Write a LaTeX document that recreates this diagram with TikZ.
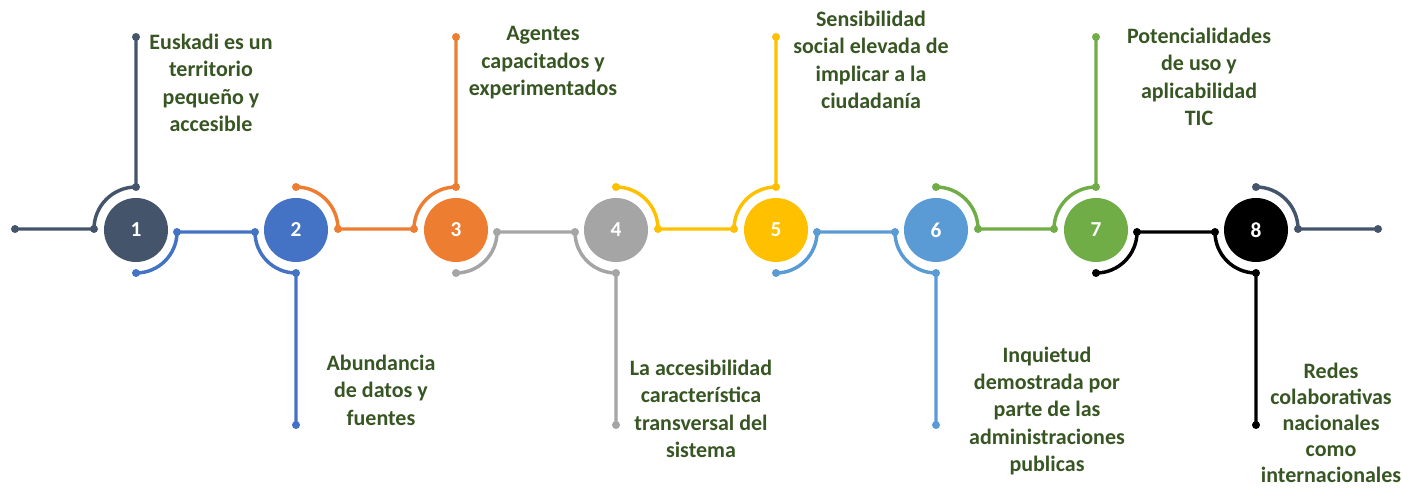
\documentclass[tikz,border=0pt]{standalone}
\usepackage{fontspec}
\setmainfont{Carlito}
\usetikzlibrary{positioning,calc}
\definecolor{slate}{HTML}{44546A}
\definecolor{blueA}{HTML}{4472C4}
\definecolor{orangeA}{HTML}{ED7D31}
\definecolor{greyA}{HTML}{A5A5A5}
\definecolor{yellowA}{HTML}{FFC000}
\definecolor{lblueA}{HTML}{5B9BD5}
\definecolor{greenA}{HTML}{70AD47}
\definecolor{textgreen}{HTML}{375623}
\tikzstyle{stage} = [circle, inner sep=0pt, minimum size=48pt, text=white, font=\bfseries\fontsize{16}{18}\selectfont]
\tikzstyle{caption} = [align=center, inner sep=0pt, text=textgreen, font=\bfseries\fontsize{16.5}{20.6}\selectfont]

\begin{document}
\begin{tikzpicture}[x=0.75pt, y=0.75pt, node distance=120pt, line width=2.6pt]
    \useasboundingbox (0,0) rectangle (1403,492);
    \node [stage, fill=slate] (c1) at (136,262) {1};
    \node [stage, fill=blueA, right of=c1] (c2) {2};
    \node [stage, fill=orangeA, right of=c2] (c3) {3};
    \node [stage, fill=greyA, right of=c3] (c4) {4};
    \node [stage, fill=yellowA, right of=c4] (c5) {5};
    \node [stage, fill=lblueA, right of=c5] (c6) {6};
    \node [stage, fill=greenA, right of=c6] (c7) {7};
    \node [stage, fill=black, right of=c7] (c8) {8};

    % ring points round every stage
    \foreach \i in {1,...,8} {
        \coordinate (t\i) at ($(c\i)+(0,43)$);
        \coordinate (lt\i) at ($(c\i)+(-42,1)$);
        \coordinate (rt\i) at ($(c\i)+(42,1)$);
        \coordinate (b\i) at ($(c\i)+(0,-43)$);
        \coordinate (lb\i) at ($(c\i)+(-41,-2)$);
        \coordinate (rb\i) at ($(c\i)+(41,-2)$);
        \coordinate (up\i) at ($(c\i)+(0,193)$);
        \coordinate (dn\i) at ($(c\i)+(0,-195)$);
    }
    \coordinate (start) at ($(lt1)+(-79,0)$);
    \coordinate (finish) at ($(rt8)+(80,0)$);

    \draw [slate] (start) -- (lt1) arc[start angle=180, end angle=90, radius=42] -- (up1);
    \draw [blueA] (b1) arc[start angle=-90, end angle=0, radius=41] -- (lb2) arc[start angle=180, end angle=270, radius=41] -- (dn2);
    \draw [orangeA] (t2) arc[start angle=90, end angle=0, radius=42] -- (lt3) arc[start angle=180, end angle=90, radius=42] -- (up3);
    \draw [greyA] (b3) arc[start angle=-90, end angle=0, radius=41] -- (lb4) arc[start angle=180, end angle=270, radius=41] -- (dn4);
    \draw [yellowA] (t4) arc[start angle=90, end angle=0, radius=42] -- (lt5) arc[start angle=180, end angle=90, radius=42] -- (up5);
    \draw [lblueA] (b5) arc[start angle=-90, end angle=0, radius=41] -- (lb6) arc[start angle=180, end angle=270, radius=41] -- (dn6);
    \draw [greenA] (t6) arc[start angle=90, end angle=0, radius=42] -- (lt7) arc[start angle=180, end angle=90, radius=42] -- (up7);
    \draw [black] (b7) arc[start angle=-90, end angle=0, radius=41] -- (lb8) arc[start angle=180, end angle=270, radius=41] -- (dn8);
    \draw [slate] (t8) arc[start angle=90, end angle=0, radius=42] -- (finish);

    % dots at the ends
    \foreach \p in {start,lt1,t1,up1,t8,rt8,finish} \fill [slate] (\p) circle (4);
    \foreach \p in {b1,rb1,lb2,b2,dn2} \fill [blueA] (\p) circle (4);
    \foreach \p in {t2,rt2,lt3,t3,up3} \fill [orangeA] (\p) circle (4);
    \foreach \p in {b3,rb3,lb4,b4,dn4} \fill [greyA] (\p) circle (4);
    \foreach \p in {t4,rt4,lt5,t5,up5} \fill [yellowA] (\p) circle (4);
    \foreach \p in {b5,rb5,lb6,b6,dn6} \fill [lblueA] (\p) circle (4);
    \foreach \p in {t6,rt6,lt7,t7,up7} \fill [greenA] (\p) circle (4);
    \foreach \p in {b7,rb7,lb8,b8,dn8} \fill [black] (\p) circle (4);

    \node [caption] (txt1) at (211,409) {Euskadi es un\\territorio\\pequeño y\\accesible};
    \node [caption] (txt2) at (381,102) {Abundancia\\de datos y\\fuentes};
    \node [caption] (txt3) at (543,429) {Agentes\\capacitados y\\experimentados};
    \node [caption] (txt4) at (701,83) {La accesibilidad\\característica\\transversal del\\sistema};
    \node [caption] (txt5) at (871,432) {Sensibilidad\\social elevada de\\implicar a la\\ciudadanía};
    \node [caption] (txt6) at (1047,81) {Inquietud\\demostrada por\\parte de las\\administraciones\\publicas};
    \node [caption] (txt7) at (1199,415) {Potencialidades\\de uso y\\aplicabilidad\\TIC};
    \node [caption, font=\bfseries\fontsize{16.5}{19.6}\selectfont] (txt8) at (1331,69) {Redes\\colaborativas\\nacionales\\como\\internacionales};
\end{tikzpicture}
\end{document}
